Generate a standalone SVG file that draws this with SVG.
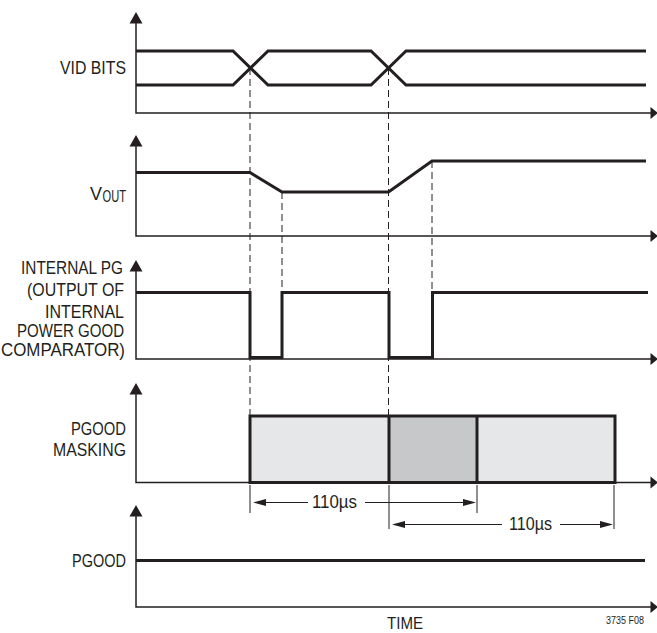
<svg xmlns="http://www.w3.org/2000/svg" width="657" height="633" viewBox="0 0 657 633">
<style>
.ax{stroke:#231f20;stroke-width:1.5;fill:none}
.sig{stroke:#231f20;stroke-width:3;fill:none;stroke-linejoin:miter}
.dash{stroke:#231f20;stroke-width:1;fill:none;stroke-dasharray:7 4}
.thin{stroke:#231f20;stroke-width:1;fill:none}
.ah{fill:#231f20}
text{font-family:"Liberation Sans",Arial,sans-serif;font-size:18px;fill:#231f20}
</style>
<rect width="657" height="633" fill="#fff"/>
<g id="connectors">
<line class="dash" x1="250" y1="68" x2="250" y2="416"/>
<line class="dash" x1="388.5" y1="68" x2="388.5" y2="416"/>
<line class="dash" x1="282" y1="192" x2="282" y2="292"/>
<line class="dash" x1="432" y1="161" x2="432" y2="292"/>
</g>
<g id="panel-vid">
<polyline class="ax" points="136,22 136,113 652,113"/>
<polygon class="ah" points="136,12 129.5,23.5 142.5,23.5"/>
<polygon class="ah" points="658,113 650.5,107 650.5,119"/>
<polyline class="sig" points="136,51 233,51 268,85 371,85 406,51 646,51"/>
<polyline class="sig" points="136,85 233,85 268,51 371,51 406,85 646,85"/>
<text x="60" y="74" textLength="66" lengthAdjust="spacingAndGlyphs">VID BITS</text>
</g>
<g id="panel-vout">
<polyline class="ax" points="136,145 136,236 652,236"/>
<polygon class="ah" points="136,135 129.5,146.5 142.5,146.5"/>
<polygon class="ah" points="658,236 650.5,230 650.5,242"/>
<polyline class="sig" points="136,172.5 250,172.5 282,192 388.5,192 432,161 646,161"/>
<text x="90" y="200" style="font-size:19px" textLength="12" lengthAdjust="spacingAndGlyphs">V</text>
<text x="102.5" y="201.5" style="font-size:16px" textLength="23.5" lengthAdjust="spacingAndGlyphs">OUT</text>
</g>
<g id="panel-internal-pg">
<polyline class="ax" points="136,270 136,359 652,359"/>
<polygon class="ah" points="136,260 129.5,271.5 142.5,271.5"/>
<polygon class="ah" points="658,359 650.5,353 650.5,365"/>
<polyline class="sig" points="136,292.5 250,292.5 250,357.5 282,357.5 282,292.5 389,292.5 389,357.5 432.5,357.5 432.5,292.5 648,292.5"/>
<text x="21" y="274" textLength="102" lengthAdjust="spacingAndGlyphs">INTERNAL PG</text>
<text x="27" y="296" textLength="97" lengthAdjust="spacingAndGlyphs">(OUTPUT OF</text>
<text x="45" y="318" textLength="79" lengthAdjust="spacingAndGlyphs">INTERNAL</text>
<text x="17" y="337" textLength="107" lengthAdjust="spacingAndGlyphs">POWER GOOD</text>
<text x="1" y="356" textLength="124" lengthAdjust="spacingAndGlyphs">COMPARATOR)</text>
</g>
<g id="panel-masking">
<polyline class="ax" points="136,393 136,482.5 652,482.5"/>
<polygon class="ah" points="136,383 129.5,394.5 142.5,394.5"/>
<polygon class="ah" points="658,482.5 650.5,476.5 650.5,488.5"/>
<rect x="250" y="416" width="139" height="66.5" fill="#e6e7e8"/>
<rect x="389" y="416" width="88" height="66.5" fill="#c7c8ca"/>
<rect x="477" y="416" width="138" height="66.5" fill="#e6e7e8"/>
<rect class="sig" x="250" y="416" width="365" height="66.5"/>
<line class="sig" x1="389" y1="416" x2="389" y2="482.5"/>
<line class="sig" x1="477" y1="416" x2="477" y2="482.5"/>
<text x="71" y="435" textLength="55" lengthAdjust="spacingAndGlyphs">PGOOD</text>
<text x="53" y="456" textLength="73" lengthAdjust="spacingAndGlyphs">MASKING</text>
</g>
<g id="dimension-1">
<line class="thin" x1="250" y1="485" x2="250" y2="513"/>
<line class="thin" x1="477" y1="485" x2="477" y2="513"/>
<line class="thin" x1="258" y1="502.5" x2="308" y2="502.5"/>
<polygon class="ah" points="253,502.5 266,499 266,506"/>
<line class="thin" x1="365" y1="502.5" x2="468" y2="502.5"/>
<polygon class="ah" points="476,502.5 463,499 463,506"/>
<text x="312" y="508" textLength="45" lengthAdjust="spacingAndGlyphs">110µs</text>
</g>
<g id="dimension-2">
<line class="thin" x1="389" y1="485" x2="389" y2="529"/>
<line class="thin" x1="614" y1="485" x2="614" y2="529"/>
<line class="thin" x1="397" y1="524.5" x2="502" y2="524.5"/>
<polygon class="ah" points="392,524.5 405,521 405,528"/>
<line class="thin" x1="560" y1="524.5" x2="605" y2="524.5"/>
<polygon class="ah" points="613,524.5 600,521 600,528"/>
<text x="509" y="530" textLength="43" lengthAdjust="spacingAndGlyphs">110µs</text>
</g>
<g id="panel-pgood">
<polyline class="ax" points="136,515 136,607 652,607"/>
<polygon class="ah" points="136,505 129.5,516.5 142.5,516.5"/>
<polygon class="ah" points="658,607 650.5,601 650.5,613"/>
<line class="sig" x1="136" y1="560.5" x2="645" y2="560.5"/>
<text x="72" y="567" textLength="54" lengthAdjust="spacingAndGlyphs">PGOOD</text>
</g>
<g id="labels">
<text x="387" y="629" style="font-size:17px" textLength="36" lengthAdjust="spacingAndGlyphs">TIME</text>
<text x="606" y="624" style="font-size:10px" textLength="38" lengthAdjust="spacingAndGlyphs">3735 F08</text>
</g>
</svg>
